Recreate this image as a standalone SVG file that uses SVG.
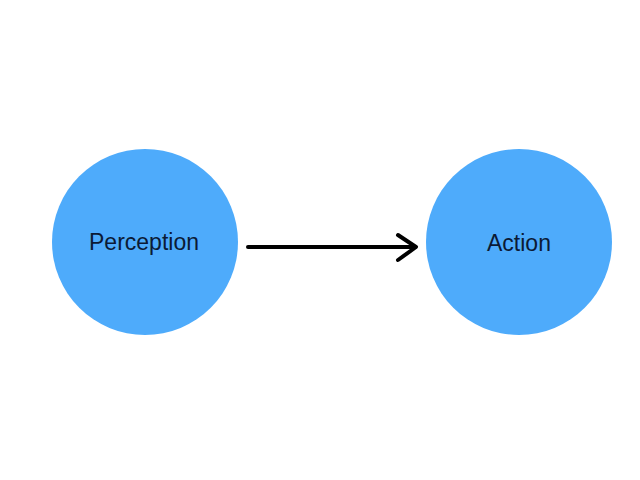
<svg xmlns="http://www.w3.org/2000/svg" width="640" height="480" viewBox="0 0 640 480">
<style>
.node{fill:#4eabfb;}
.label{font-family:"Liberation Sans",Arial,sans-serif;font-size:23px;fill:#0b1a35;text-anchor:middle;}
.conn{stroke:#000;stroke-width:4;fill:none;stroke-linecap:round;stroke-linejoin:round;}
</style>
<rect width="640" height="480" fill="#ffffff"/>
<g id="perception">
<circle class="node" cx="145" cy="242" r="93"/>
<text class="label" x="144" y="250">Perception</text>
</g>
<g id="action">
<circle class="node" cx="519" cy="242" r="93"/>
<text class="label" x="519" y="251">Action</text>
</g>
<g id="connectors">
<line class="conn" x1="248" y1="247" x2="415" y2="247"/>
<polyline class="conn" points="398,235 416,247 398,260"/>
</g>
</svg>
